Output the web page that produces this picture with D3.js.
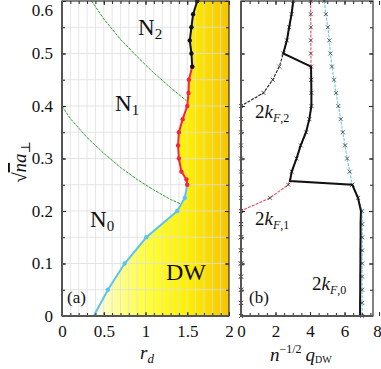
<!DOCTYPE html>
<meta charset="utf-8">
<style>
  body { margin: 0; background: #fff; }
  text { font-family: "Liberation Serif", "DejaVu Serif", serif; fill: #111; }
  .tick line { stroke: #222; }
  .grid line { stroke: #dedede; stroke-width: 0.8; }
  .frame { fill: none; stroke: #333; stroke-width: 1.2; }
</style>
<body>
<svg width="381" height="369"></svg>
<script src="https://d3js.org/d3.v7.min.js"></script>
<script>

// ---- panel (a): phase boundaries in the (r_d, sqrt(n) a_perp) plane
var blueR = [0.38, 0.55, 0.75, 1.01, 1.38, 1.47, 1.50];
var blueY = [0, 0.05, 0.1, 0.15, 0.2, 0.225, 0.25];
var redR = [1.50, 1.49, 1.43, 1.40, 1.39, 1.40, 1.445, 1.50, 1.515, 1.52, 1.56];
var redY = [0.25, 0.26, 0.275, 0.3, 0.325, 0.35, 0.375, 0.4, 0.425, 0.45, 0.475];
var blackR = [1.56, 1.55, 1.53, 1.55, 1.57, 1.62];
var blackY = [0.475, 0.5, 0.525, 0.55, 0.575, 0.6];
// band filling lines (green dashed)
var fermi1R = [0, 0.1, 0.3, 0.5, 0.7, 0.9, 1.1, 1.3, 1.43];
var fermi1Y = [0.4, 0.376, 0.34, 0.31, 0.283, 0.26, 0.24, 0.222, 0.213];
var fermi2R = [0.355, 0.5, 0.7, 0.9, 1.1, 1.3, 1.49];
var fermi2Y = [0.6, 0.566, 0.527, 0.494, 0.463, 0.435, 0.41];

// ---- panel (b): wave vectors
var kY = [0.6, 0.575, 0.55, 0.525, 0.5, 0.475, 0.45, 0.425, 0.4, 0.375, 0.35, 0.325, 0.3,
          0.275, 0.25, 0.225, 0.2, 0.175, 0.15, 0.125, 0.1, 0.075, 0.05, 0.025, 0];
var kF0 = [4.83, 4.92, 5.03, 5.12, 5.18, 5.27, 5.39, 5.51, 5.64, 5.78, 5.9, 6.03, 6.15,
           6.3, 6.45, 6.78, 7.02, 7.03, 7.03, 7.02, 7.02, 7.02, 7.02, 7.02, 7.02];
var kF1 = [4.04, 4.04, 4.05, 4.05, 4.05, 4.06, 4.07, 4.08, 4.08, 3.96, 3.77, 3.46, 3.22,
           2.94, 2.74, 1.68, 0, 0, 0, 0, 0, 0, 0, 0, 0];
var kF2 = [3.03, 2.93, 2.79, 2.66, 2.45, 2.22, 1.84, 1.30, 0, 0, 0, 0, 0,
           0, 0, 0, 0, 0, 0, 0, 0, 0, 0, 0, 0];
var qDWY = [0.6, 0.575, 0.55, 0.525, 0.5, 0.475, 0.45, 0.425, 0.4, 0.375, 0.35, 0.325, 0.3,
            0.275, 0.257, 0.25, 0.225, 0.2, 0.175, 0.15, 0.125, 0.1, 0.075, 0.05, 0.025, 0];
var qDWX = [3.03, 2.93, 2.79, 2.66, 2.45, 4.06, 4.07, 4.08, 4.08, 3.96, 3.77, 3.46, 3.22,
            2.94, 2.84, 6.45, 6.78, 6.95, 6.93, 6.93, 6.92, 6.92, 6.91, 6.91, 6.9, 6.9];

var xTicksA = [0, 0.5, 1, 1.5, 2];
var xTicksB = [0, 2, 4, 6, 8];
var yTicks = [0, 0.1, 0.2, 0.3, 0.4, 0.5, 0.6];

var svg = d3.select("svg");

var y = d3.scaleLinear().domain([0, 0.6]).range([316, 1]);
var xa = d3.scaleLinear().domain([0, 2]).range([62, 229]);
var xb = d3.scaleLinear().domain([0, 7.65]).range([241, 373]);

function zip(xs, ys) { return xs.map(function (v, i) { return [v, ys[i]]; }); }

var defs = svg.append("defs");
var grad = defs.append("linearGradient")
    .attr("id", "dw")
    .attr("gradientUnits", "userSpaceOnUse")
    .attr("x1", xa(0.35)).attr("x2", xa(2)).attr("y1", 0).attr("y2", 0);
[[0, "#ffffff"], [0.15, "#ffffa8"], [0.4, "#ffff3a"], [0.7, "#fff000"], [1, "#f6c400"]]
  .forEach(function (s) { grad.append("stop").attr("offset", s[0]).attr("stop-color", s[1]); });

// ---------- panel (a)
var lineA = d3.line().x(function (d) { return xa(d[0]); }).y(function (d) { return y(d[1]); });

var boundary = zip(blueR, blueY).concat(zip(redR, redY).slice(1), zip(blackR, blackY).slice(1));
svg.append("path")
    .attr("d", lineA(boundary.concat([[2, 0.6], [2, 0]])) + "Z")
    .attr("fill", "url(#dw)");

var grid = svg.append("g").attr("class", "grid");
grid.selectAll(".gx").data(d3.range(1, 20).map(function (i) { return i / 10; }))
  .enter().append("line")
    .attr("x1", function (d) { return xa(d); }).attr("x2", function (d) { return xa(d); })
    .attr("y1", y(0)).attr("y2", y(0.6));
grid.selectAll(".gy").data(d3.range(1, 12).map(function (i) { return i / 20; }))
  .enter().append("line")
    .attr("x1", xa(0)).attr("x2", xa(2))
    .attr("y1", function (d) { return y(d); }).attr("y2", function (d) { return y(d); });

[[fermi1R, fermi1Y], [fermi2R, fermi2Y]].forEach(function (f) {
  svg.append("path")
      .attr("d", lineA(zip(f[0], f[1])))
      .attr("fill", "none")
      .attr("stroke", "#2e9e2e")
      .attr("stroke-width", 1)
      .attr("stroke-dasharray", "3,1");
});

[[blueR, blueY, "#5cc3f2"], [redR, redY, "#f5243f"], [blackR, blackY, "#111"]].forEach(function (s, k) {
  var pts = zip(s[0], s[1]);
  svg.append("path")
      .attr("d", lineA(pts))
      .attr("fill", "none")
      .attr("stroke", s[2])
      .attr("stroke-width", 2);
  svg.append("g").selectAll("circle")
      .data(k === 0 ? pts.slice(1) : pts)
    .enter().append("circle")
      .attr("cx", function (d) { return xa(d[0]); })
      .attr("cy", function (d) { return y(d[1]); })
      .attr("r", 2.2)
      .attr("fill", s[2]);
});

// ---------- panel (b)
var lineB = d3.line().x(function (d) { return xb(d[0]); }).y(function (d) { return y(d[1]); });

[[kF0, "#6cc8f0"], [kF1, "#f5475e"], [kF2, "#222"]].forEach(function (s) {
  var pts = zip(s[0], kY);
  svg.append("path")
      .attr("d", lineB(pts))
      .attr("fill", "none")
      .attr("stroke", s[1])
      .attr("stroke-width", 1.1)
      .attr("stroke-dasharray", "3,1.2");
  svg.append("g").selectAll("path")
      .data(pts)
    .enter().append("path")
      .attr("transform", function (d) { return "translate(" + xb(d[0]) + "," + y(d[1]) + ")"; })
      .attr("d", "M-2,-2L2,2M-2,2L2,-2")
      .attr("stroke", "#333")
      .attr("stroke-width", 0.8);
});

svg.append("path")
    .attr("d", lineB(zip(qDWX, qDWY)))
    .attr("fill", "none")
    .attr("stroke", "#111")
    .attr("stroke-width", 2);

// ---------- axes and frames
function ticks(axis, tr, major, minor, labels) {
  var g = svg.append("g").attr("transform", tr)
      .call(axis.tickValues(minor).tickSize(-3).tickFormat(""));
  g.select(".domain").remove();
  var g2 = svg.append("g").attr("transform", tr)
      .call(axis.tickValues(major).tickSize(-4).tickPadding(labels ? 9 : 0)
        .tickFormat(labels ? d3.format("") : ""));
  g2.select(".domain").remove();
  g2.attr("font-family", null).attr("font-size", null);
  g2.selectAll("text")
      .style("font-family", "'Liberation Serif', serif")
      .style("font-size", "17px")
      .attr("fill", "#111");
  return g2;
}

var minorXa = d3.range(0, 21).map(function (i) { return i / 10; });
var minorY = d3.range(0, 13).map(function (i) { return i / 20; });
var minorXb = d3.range(0, 16).map(function (i) { return i / 2; });

ticks(d3.axisBottom(xa), "translate(0," + y(0) + ")", xTicksA, minorXa, true);
ticks(d3.axisTop(xa), "translate(0," + y(0.6) + ")", xTicksA, minorXa, false);
var ly = ticks(d3.axisLeft(y), "translate(" + xa(0) + ",0)", yTicks, minorY, true);
ly.selectAll("text").filter(function (d) { return d === 0.6; }).attr("dy", "0.85em");
ticks(d3.axisRight(y), "translate(" + xa(2) + ",0)", yTicks, minorY, false);

var bx = ticks(d3.axisBottom(xb), "translate(0," + y(0) + ")", xTicksB, minorXb, true);
bx.selectAll("text").filter(function (d) { return d === 8; }).attr("dx", "-2");
ticks(d3.axisTop(xb), "translate(0," + y(0.6) + ")", xTicksB, minorXb, false);
ticks(d3.axisLeft(y), "translate(" + xb(0) + ",0)", yTicks, minorY, false);
ticks(d3.axisRight(y), "translate(" + xb(7.65) + ",0)", yTicks, minorY, false);

svg.append("rect").attr("class", "frame")
    .attr("x", xa(0)).attr("y", y(0.6)).attr("width", xa(2) - xa(0)).attr("height", y(0) - y(0.6));
svg.append("rect").attr("class", "frame")
    .attr("x", xb(0)).attr("y", y(0.6)).attr("width", xb(7.65) - xb(0)).attr("height", y(0) - y(0.6));
// thicker grey left/bottom spines
[[xa(0), xa(0), y(0), y(0.6)], [xa(0), xa(2), y(0), y(0)], [xb(0), xb(0), y(0), y(0.6)], [xb(0), xb(7.65), y(0), y(0)]]
  .forEach(function (l) {
    svg.append("line").attr("x1", l[0]).attr("x2", l[1]).attr("y1", l[2]).attr("y2", l[3])
        .attr("stroke", "#555").attr("stroke-width", 2);
  });

// ---------- labels
function label(x0, y0, size, parts) {
  var t = svg.append("text").attr("x", x0).attr("y", y0).style("font-size", size + "px");
  parts.forEach(function (p) {
    var s = t.append("tspan").text(p.t);
    if (p.i) s.style("font-style", "italic");
    if (p.s) s.style("font-size", p.s + "px");
    if (p.dy) s.attr("dy", p.dy);
    if (p.dx) s.attr("dx", p.dx);
  });
  return t;
}

label(138, 35, 23, [{t: "N"}, {t: "2", s: 15, dy: 4}]);
label(115, 111, 23, [{t: "N"}, {t: "1", s: 15, dy: 4}]);
label(90, 227, 23, [{t: "N"}, {t: "0", s: 15, dy: 4}]);
label(166, 280, 24, [{t: "DW"}]);
label(67, 303, 17, [{t: "(a)"}]);
label(249, 303, 17, [{t: "(b)"}]);

label(255, 118, 19, [{t: "2"}, {t: "k", i: 1}, {t: "F", i: 1, s: 12, dy: 4}, {t: ",2", s: 12}]);
label(255, 225, 19, [{t: "2"}, {t: "k", i: 1}, {t: "F", i: 1, s: 12, dy: 4}, {t: ",1", s: 12}]);
label(312, 290, 19, [{t: "2"}, {t: "k", i: 1}, {t: "F", i: 1, s: 12, dy: 4}, {t: ",0", s: 12}]);

label(140, 359, 19, [{t: "r", i: 1}, {t: "d", i: 1, s: 13, dy: 4}]);
label(270, 361, 19, [{t: "n", i: 1}, {t: "−1/2", s: 12, dy: -8}, {t: "q", i: 1, dy: 8, dx: 4},
                     {t: "DW", s: 10, dy: 2}]);

var yl = svg.append("text")
    .attr("transform", "translate(26,162) rotate(-90)")
    .attr("text-anchor", "middle")
    .style("font-size", "19px");
yl.append("tspan").text("√");
yl.append("tspan").text("n").style("font-style", "italic").style("text-decoration", "overline");
yl.append("tspan").text("a").style("font-style", "italic");
yl.append("tspan").text("⊥").style("font-size", "13px").attr("dy", 4);

</script>
</body>
